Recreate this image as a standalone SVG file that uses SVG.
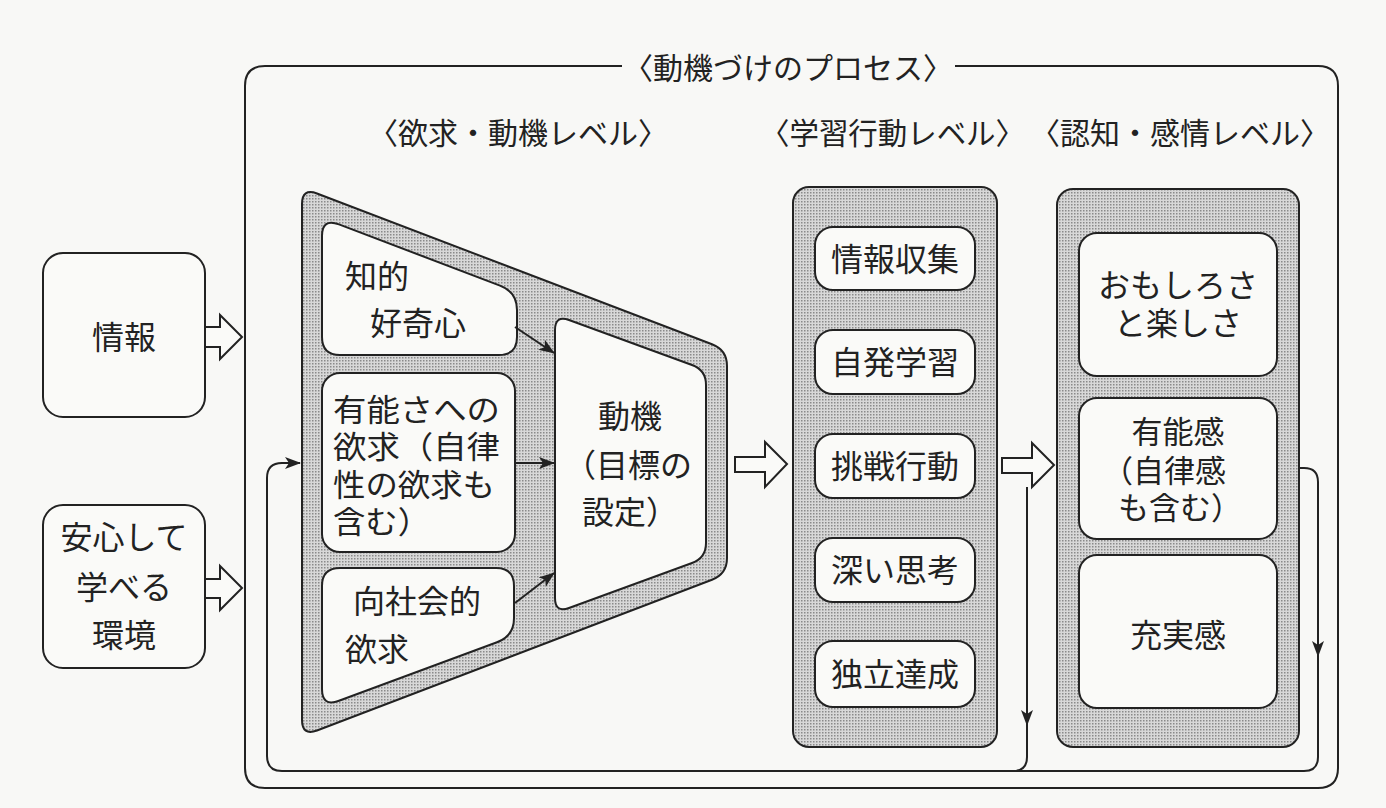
<svg xmlns="http://www.w3.org/2000/svg" width="1386" height="808" viewBox="0 0 1386 808">
<defs>
<pattern id="dots" width="3" height="3" patternUnits="userSpaceOnUse"><rect width="3" height="3" fill="#d8d8d8"/><rect width="1.5" height="1.5" fill="#8a8a8a"/></pattern>
<marker id="ah" markerWidth="16" markerHeight="12" viewBox="0 0 16 12" refX="15" refY="6" orient="auto" markerUnits="userSpaceOnUse"><path d="M0,0 L16,6 L0,12 L4,6 Z" fill="#222"/></marker>
<style>
.ln{fill:none;stroke:#222;stroke-width:2}
.box{fill:#fafaf8;stroke:#222;stroke-width:2}
.shade{fill:url(#dots);stroke:#222;stroke-width:2}
.hollow{fill:#fafaf8;stroke:#222;stroke-width:2;stroke-linejoin:miter}
text{font-family:"Liberation Sans","Noto Sans CJK JP","Noto Sans CJK SC",sans-serif;font-size:32px;fill:#222}
.c{text-anchor:middle}
.lvl{font-size:30px}
.sm{font-size:31px}
</style>
</defs>
<rect width="1386" height="808" fill="#f8f8f6"/>
<g id="frame">
<path class="ln" d="M622,66 L265,66 Q245,66 245,86 L245,768 Q245,788 265,788 L1318,788 Q1338,788 1338,768 L1338,86 Q1338,66 1318,66 L955,66"/>
<text class="c lvl" x="788" y="79">〈動機づけのプロセス〉</text>
</g>
<g id="labels">
<text class="lvl" x="368" y="144" textLength="300" lengthAdjust="spacingAndGlyphs">〈欲求・動機レベル〉</text>
<text class="lvl" x="760" y="144" textLength="265" lengthAdjust="spacingAndGlyphs">〈学習行動レベル〉</text>
<text class="lvl" x="1030" y="144" textLength="300" lengthAdjust="spacingAndGlyphs">〈認知・感情レベル〉</text>
</g>
<g id="node-info">
<rect class="box" x="43" y="253" width="162" height="164" rx="20"/>
<text class="c" x="124" y="349">情報</text>
</g>
<g id="node-env">
<rect class="box" x="43" y="505" width="162" height="163" rx="20"/>
<text class="c" x="124" y="549">安心して</text>
<text class="c" x="124" y="599">学べる</text>
<text class="c" x="124" y="647">環境</text>
</g>
<g id="node-desire-level">
<path class="shade" d="M302,204 Q302,188 317,193.5 L712,344.3 Q727,350 727,366 L727,558 Q727,574 712,579.7 L317,730.5 Q302,736 302,720 Z"/>
</g>
<g id="node-curiosity">
<path class="box" d="M322,236 Q322,218 339,224.4 L500,285.6 Q517,292 517,310 L517,337 Q517,355 499,355 L340,355 Q322,355 322,337 Z"/>
<text x="345" y="288">知的</text>
<text x="370" y="335">好奇心</text>
</g>
<g id="node-competence">
<rect class="box" x="322" y="373" width="193" height="179" rx="18"/>
<text class="sm" x="333" y="421" textLength="167" lengthAdjust="spacingAndGlyphs">有能さへの</text>
<text class="sm" x="333" y="458" textLength="167" lengthAdjust="spacingAndGlyphs">欲求（自律</text>
<text class="sm" x="333" y="496" textLength="162" lengthAdjust="spacingAndGlyphs">性の欲求も</text>
<text class="sm" x="333" y="533" textLength="97" lengthAdjust="spacingAndGlyphs">含む）</text>
</g>
<g id="node-prosocial">
<path class="box" d="M340,568 L496,568 Q514,568 514,586 L514,618 Q514,636 497,642.2 L339,700.8 Q322,707 322,689 L322,586 Q322,568 340,568 Z"/>
<text x="353" y="613">向社会的</text>
<text x="345" y="661">欲求</text>
</g>
<g id="node-motive">
<path class="box" d="M555,330 Q555,315 569,320 L692,365 Q706,370 706,385 L706,543 Q706,558 692,563 L569,608 Q555,613 555,598 Z"/>
<text class="c" x="630" y="428">動機</text>
<text x="564" y="477">（目標の</text>
<text x="582" y="524">設定）</text>
</g>
<g id="node-learning-level">
<rect class="shade" x="793" y="187" width="204" height="560" rx="16"/>
</g>
<g id="node-collect"><rect class="box" x="815" y="227" width="160" height="63" rx="18"/><text class="c" x="895" y="271">情報収集</text></g>
<g id="node-self"><rect class="box" x="815" y="330" width="160" height="64" rx="18"/><text class="c" x="895" y="374">自発学習</text></g>
<g id="node-challenge"><rect class="box" x="815" y="434" width="160" height="64" rx="18"/><text class="c" x="895" y="478">挑戦行動</text></g>
<g id="node-deep"><rect class="box" x="815" y="538" width="160" height="64" rx="18"/><text class="c" x="895" y="582">深い思考</text></g>
<g id="node-indep"><rect class="box" x="815" y="641" width="160" height="66" rx="18"/><text class="c" x="895" y="686">独立達成</text></g>
<g id="node-cog-level">
<rect class="shade" x="1057" y="189" width="242" height="558" rx="16"/>
</g>
<g id="node-fun"><rect class="box" x="1079" y="233" width="198" height="143" rx="18"/><text class="c" x="1178" y="297">おもしろさ</text><text class="c" x="1178" y="335">と楽しさ</text></g>
<g id="node-compfeel"><rect class="box" x="1079" y="398" width="198" height="141" rx="18"/><text class="c sm" x="1178" y="443">有能感</text><text class="sm" x="1102" y="482">（自律感</text><text class="sm" x="1118" y="519">も含む）</text></g>
<g id="node-fulfil"><rect class="box" x="1079" y="555" width="198" height="153" rx="18"/><text class="c" x="1178" y="647">充実感</text></g>
<g id="connectors">
<polygon class="hollow" points="205,327 220,327 220,315 242,337 220,359 220,347 205,347"/>
<polygon class="hollow" points="205,579 220,579 220,566 242,588 220,610 220,598 205,598"/>
<polygon class="hollow" points="735,457 765,457 765,442 787,464 765,487 765,472 735,472"/>
<polygon class="hollow" points="1002,458 1032,458 1032,443 1054,465 1032,487 1032,473 1002,473"/>
<line class="ln" x1="515" y1="327" x2="554" y2="353" marker-end="url(#ah)"/>
<line class="ln" x1="515" y1="463" x2="554" y2="463" marker-end="url(#ah)"/>
<line class="ln" x1="515" y1="603" x2="554" y2="573" marker-end="url(#ah)"/>
<path class="ln" d="M1299,468 L1304,468 Q1318,468 1318,482 L1318,757 Q1318,771 1304,771 L282,771 Q267,771 267,756 L267,478 Q267,463 282,463 L300,463" marker-end="url(#ah)"/>
<path class="ln" d="M1027,487 L1027,757 Q1027,771 1013,771"/>
<path d="M1312,641 L1318,657 L1324,641 L1318,645 Z" fill="#222"/>
<path d="M1021,710 L1027,726 L1033,710 L1027,714 Z" fill="#222"/>
</g>
</svg>
